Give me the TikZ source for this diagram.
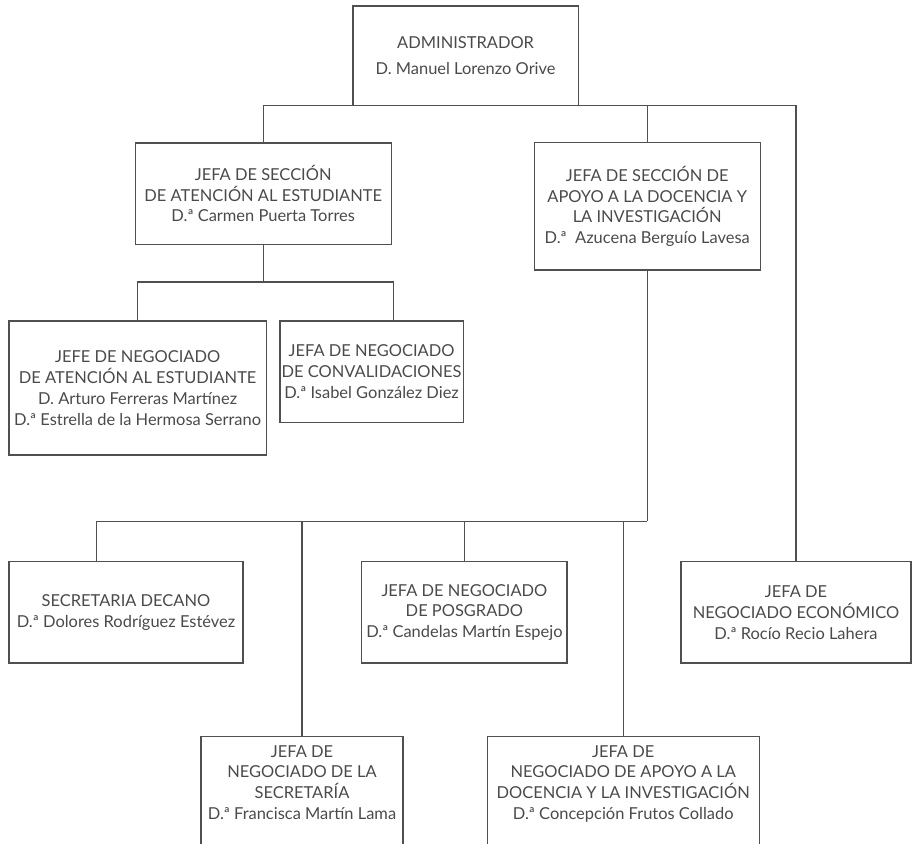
\documentclass[tikz,border=0pt]{standalone}
\usepackage{fontspec}
\setmainfont{Lato}
\usetikzlibrary{positioning}
\definecolor{linegray}{HTML}{505050}
\definecolor{textgray}{HTML}{4A4A4A}
\tikzset{
    orgbox/.style = {rectangle, draw=linegray, line width=0.75pt, align=center, text=textgray, inner sep=0pt, font=\fontsize{11.7}{14.8}\selectfont},
    orgboxcut/.style = {orgbox, anchor=north, inner ysep=6.2pt, text depth=3cm}, % cut at page bottom
    orglink/.style = {draw=linegray, line width=0.75pt},
}

\begin{document}
\begin{tikzpicture}
\clip (0,0) rectangle (22.8,-21.1);
\node[orgbox, minimum width=5.63cm, minimum height=2.48cm] at (11.64, -1.39) (admin) {ADMINISTRADOR\\[3pt] D. Manuel Lorenzo Orive};
\node[orgbox, minimum width=6.40cm, minimum height=2.53cm] at (6.58, -4.84) (secat) {JEFA DE SECCIÓN\\ DE ATENCIÓN AL ESTUDIANTE\\ D.ª Carmen Puerta Torres};
\node[orgbox, minimum width=5.65cm, minimum height=3.18cm] at (16.18, -5.16) (secap) {JEFA DE SECCIÓN DE\\ APOYO A LA DOCENCIA Y\\ LA INVESTIGACIÓN\\ D.ª~ Azucena Berguío Lavesa};
\node[orgbox, minimum width=6.43cm, minimum height=3.35cm] at (3.44, -9.70) (negat) {JEFE DE NEGOCIADO\\ DE ATENCIÓN AL ESTUDIANTE\\ D. Arturo Ferreras Martínez\\ D.ª Estrella de la Hermosa Serrano};
\node[orgbox, minimum width=4.58cm, minimum height=2.53cm] at (9.29, -9.29) (conval) {JEFA DE NEGOCIADO\\ DE CONVALIDACIONES\\ D.ª Isabel González Diez};
\node[orgbox, minimum width=5.85cm, minimum height=2.53cm] at (3.15, -15.31) (secdec) {SECRETARIA DECANO\\ D.ª Dolores Rodríguez Estévez};
\node[orgbox, minimum width=5.13cm, minimum height=2.53cm] at (11.61, -15.31) (posgr) {JEFA DE NEGOCIADO\\ DE POSGRADO\\ D.ª Candelas Martín Espejo};
\node[orgbox, minimum width=5.75cm, minimum height=2.53cm] at (19.90, -15.31) (econ) {JEFA DE\\ NEGOCIADO ECONÓMICO\\ D.ª Rocío Recio Lahera};
\node[orgboxcut, minimum width=5.05cm] at (7.55, -18.40) (secre) {JEFA DE\\ NEGOCIADO DE LA\\ SECRETARÍA\\ D.ª Francisca Martín Lama};
\node[orgboxcut, minimum width=6.80cm] at (15.58, -18.40) (apoyo) {JEFA DE\\ NEGOCIADO DE APOYO A LA\\ DOCENCIA Y LA INVESTIGACIÓN\\ D.ª Concepción Frutos Collado};
%
\coordinate (j1) at (6.58, -7.05);
\coordinate (j2) at (16.18, -13.03);
%
\draw[orglink] (secat.north) |- (admin.south) -| (econ.north);
\draw[orglink] (admin.south) -| (secap.north);
\draw[orglink] (secat.south) -- (j1);
\draw[orglink] (negat.north) |- (j1) -| ([xshift=0.54cm]conval.north);
\draw[orglink] (secap.south) -- (j2);
\draw[orglink] ([xshift=-0.73cm]secdec.north) |- (j2);
\draw[orglink] (secre.north) -- (secre.north |- j2);
\draw[orglink] (posgr.north) -- (posgr.north |- j2);
\draw[orglink] (apoyo.north) -- (apoyo.north |- j2);
\end{tikzpicture}
\end{document}
